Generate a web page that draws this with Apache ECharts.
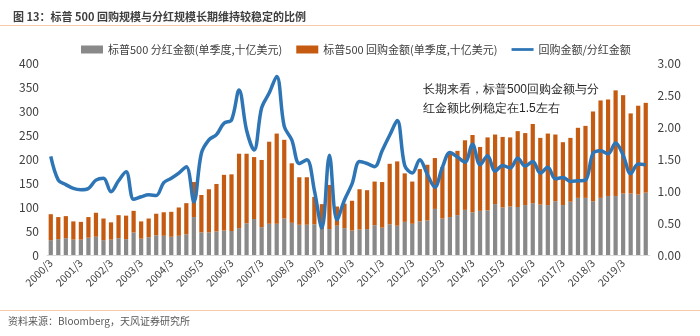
<!DOCTYPE html>
<html>
<head>
<meta charset="utf-8">
<script src="https://cdn.jsdelivr.net/npm/echarts@6/dist/echarts.min.js"></script>
<style>
html,body{margin:0;padding:0;background:#fff;}
#c{width:700px;height:336px;}
</style>
</head>
<body>
<div id="c"></div>
<script>
// Quarter labels 2000/3 ... 2019/12
const years = [];
for (let y = 2000; y <= 2019; y++) years.push(y);
const quarters = ['3', '6', '9', '12'];
const categories = [];
years.forEach(y => quarters.forEach(q => categories.push(y + '/' + q)));

// Total of dividends + buybacks
const totals = [
  85, 79, 81, 70, 69, 79, 88, 76, 68, 83,
  82, 92, 70, 76, 86, 89, 90, 99, 108, 152,
  125, 137, 148, 167, 168, 211, 211, 204, 198, 236,
  253, 240, 191, 162, 162, 121, 106, 146, 101, 107,
  113, 137, 135, 153, 152, 190, 195, 170, 153, 179,
  188, 202, 183, 212, 217, 239, 250, 225, 245, 251,
  246, 245, 258, 254, 273, 244, 253, 251, 235, 244,
  265, 269, 299, 322, 324, 343, 333, 295, 311, 317
];
// S&P 500 dividends (grey)
const dividends = [
  31, 33, 35, 32, 32, 36, 38, 31, 32, 35,
  33, 47, 34, 37, 41, 40, 38, 40, 43, 79,
  47, 47, 49, 51, 50, 56, 66, 75, 58, 65,
  65, 76, 67, 63, 63, 64, 54, 54, 61, 56,
  51, 53, 54, 62, 57, 64, 61, 69, 65, 70,
  72, 96, 76, 79, 83, 94, 89, 92, 93, 106,
  99, 101, 100, 104, 108, 105, 104, 112, 104, 111,
  119, 119, 112, 119, 123, 123, 128, 128, 126, 130
];
// Buyback / dividend ratio (blue line, right axis)
const ratio = [
  1.54, 1.17, 1.10, 1.04, 1.02, 1.04, 1.17, 1.20, 0.99, 1.16,
  1.30, 0.87, 0.91, 0.94, 0.93, 1.13, 1.20, 1.28, 1.38, 0.83,
  1.59, 1.80, 1.88, 2.06, 2.11, 2.58, 1.95, 1.64, 2.30, 2.53,
  2.79, 2.01, 1.80, 1.43, 1.49, 1.01, 0.42, 1.56, 0.55, 0.86,
  1.11, 1.46, 1.43, 1.38, 1.63, 1.87, 2.10, 1.40, 1.28, 1.49,
  1.26, 1.06, 1.37, 1.60, 1.53, 1.45, 1.73, 1.41, 1.55, 1.31,
  1.40, 1.36, 1.51, 1.39, 1.46, 1.28, 1.37, 1.19, 1.21, 1.15,
  1.16, 1.17, 1.59, 1.63, 1.58, 1.75, 1.56, 1.27, 1.42, 1.41
];
const buybacks = totals.map((t, i) => t - dividends[i]);

const leftTicks = [0, 400, 50];
const rightTicks = [0, 3, 0.5];

const seriesNames = ['标普500 分红金额(单季度,十亿美元)', '标普500 回购金额(单季度,十亿美元)', '回购金额/分红金额'];
const FONT = '"Noto Sans CJK SC", "Noto Sans", sans-serif';

const chart = echarts.init(document.getElementById('c'), null, {renderer: 'canvas'});
chart.setOption({
  animation: false,
  backgroundColor: '#ffffff',
  textStyle: {fontFamily: FONT},
  title: {
    text: '图 13：标普 500 回购规模与分红规模长期维持较稳定的比例',
    left: 8, top: 6,
    textStyle: {fontSize: 11, fontWeight: 'bold', color: '#3f3f3f', fontFamily: FONT}
  },
  legend: {
    left: 76, top: 39,
    itemWidth: 22, itemHeight: 8, itemGap: 14,
    textStyle: {fontSize: 11, color: '#404040', fontFamily: FONT},
    data: [
      {name: seriesNames[0], icon: 'rect'},
      {name: seriesNames[1], icon: 'rect'},
      {name: seriesNames[2], icon: 'path://M0,0H40V5H0Z'}
    ]
  },
  grid: {left: 47, right: 50.5, top: 63, bottom: 81},
  xAxis: {
    type: 'category',
    data: categories,
    boundaryGap: true,
    axisLine: {lineStyle: {color: '#d9d9d9', width: 1}},
    axisTick: {show: false},
    axisLabel: {
      interval: 3, rotate: 45, fontSize: 10.5, color: '#404040', margin: 6, fontFamily: FONT
    }
  },
  yAxis: [
    {
      type: 'value', min: leftTicks[0], max: leftTicks[1], interval: leftTicks[2],
      splitLine: {show: false}, axisLine: {show: false}, axisTick: {show: false},
      axisLabel: {fontSize: 12, color: '#404040', margin: 8, fontFamily: FONT}
    },
    {
      type: 'value', min: rightTicks[0], max: rightTicks[1], interval: rightTicks[2],
      splitLine: {show: false}, axisLine: {show: false}, axisTick: {show: false},
      axisLabel: {fontSize: 12, color: '#404040', margin: 8, fontFamily: FONT,
        formatter: v => v.toFixed(2)}
    }
  ],
  series: [
    {
      name: seriesNames[0], type: 'bar', stack: 'a', data: dividends,
      barWidth: '56%', itemStyle: {color: '#898989'}
    },
    {
      name: seriesNames[1], type: 'bar', stack: 'a', data: buybacks,
      barWidth: '56%', itemStyle: {color: '#c55a11'}
    },
    {
      name: seriesNames[2], type: 'line', yAxisIndex: 1, data: ratio,
      smooth: 0.35, symbol: 'none',
      lineStyle: {color: '#2e75b6', width: 3.5},
      itemStyle: {color: '#2e75b6'}
    }
  ],
  graphic: [
    {type: 'line', shape: {x1: 0, y1: 25.5, x2: 700, y2: 25.5}, style: {stroke: '#f8cbad', lineWidth: 1}},
    {type: 'line', shape: {x1: 0, y1: 310.5, x2: 700, y2: 310.5}, style: {stroke: '#f8cbad', lineWidth: 1}},
    {type: 'text', left: 423, top: 84, style: {text: '长期来看，标普500回购金额与分', fontSize: 12, fill: '#262626', font: '12px ' + FONT}},
    {type: 'text', left: 423, top: 103, style: {text: '红金额比例稳定在1.5左右', fontSize: 12, fill: '#262626', font: '12px ' + FONT}},
    {type: 'text', left: 8, top: 316, style: {text: '资料来源：Bloomberg，天风证券研究所', fill: '#595959', font: '10px ' + FONT}}
  ]
});
</script>
</body>
</html>
